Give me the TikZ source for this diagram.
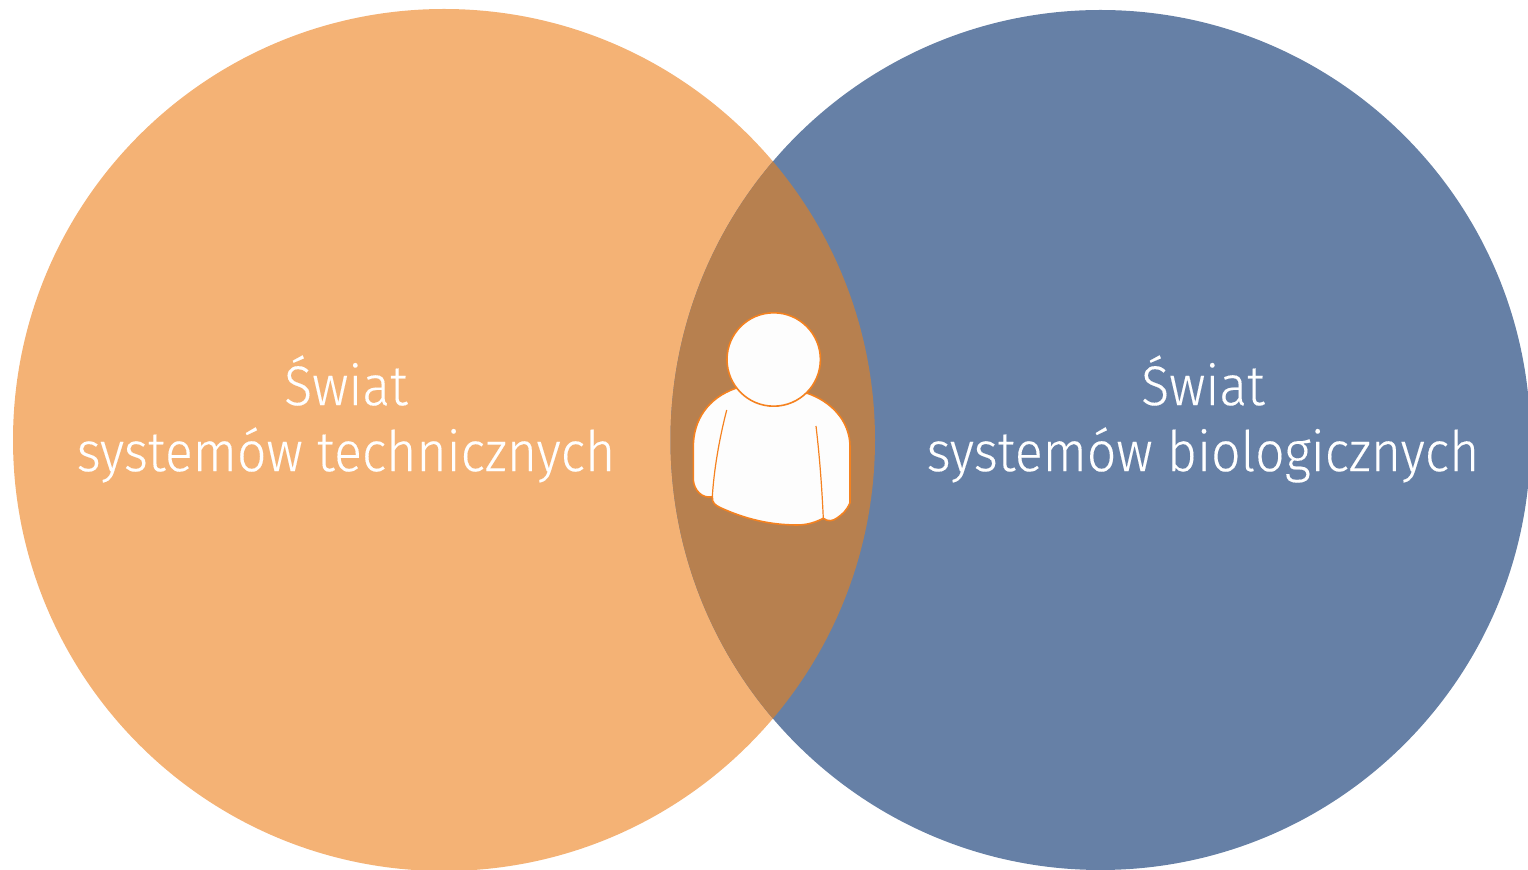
\documentclass[tikz,border=0pt]{standalone}
\usepackage{fontspec}
\setmainfont{Fira Sans}[UprightFont=* Light, FakeStretch=0.925, FakeBold=0.2]
\definecolor{orangeworld}{HTML}{F4B275}
\definecolor{blueworld}{HTML}{6680A6}
\definecolor{overlapworld}{HTML}{B7804F}
\definecolor{personline}{HTML}{F58220}
\definecolor{personfill}{HTML}{FDFDFD}
\tikzset{
  worldlabel/.style={text=white, align=center, font=\fontsize{28}{33}\selectfont},
  personpart/.style={draw=personline, fill=personfill, line width=0.8pt},
}
\begin{document}
\begin{tikzpicture}[x=0.5pt, y=-0.5pt]
\useasboundingbox (0, 0) rectangle (1528, 870);

\fill[orangeworld] (444, 440) circle[radius=431];
\fill[blueworld] (1100.5, 440) circle[radius=430];
\begin{scope}
\clip (444, 440) circle[radius=431];
\fill[overlapworld] (1100.5, 440) circle[radius=430];
\end{scope}

\node[worldlabel] (technical) at (346, 419) {Świat\\systemów technicznych};
\node[worldlabel] (biological) at (1203, 419) {Świat\\systemów biologicznych};

% body
\draw[personpart] (735.7, 388.3) .. controls (708, 398) and (693.3, 420) .. (693.3, 446.7)
  -- (693.3, 480) .. controls (694, 490) and (702, 499) .. (712.3, 496.7)
  .. controls (712, 503) and (715, 505) .. (720, 507.5)
  .. controls (745, 519) and (770, 525) .. (797, 525)
  .. controls (808, 525) and (816, 522) .. (823.3, 518.3)
  .. controls (828, 522) and (833, 521) .. (837, 518)
  .. controls (843, 514) and (847, 510) .. (850, 502.7)
  -- (850, 446.7) .. controls (850, 420) and (830, 401) .. (807.3, 393.3) -- cycle;
\draw[personline, line width=0.6pt] (726.7, 410) .. controls (719, 440) and (714, 470) .. (712.3, 496.7);
\draw[personline, line width=0.6pt] (816, 426) .. controls (820, 460) and (822, 490) .. (823.3, 518.3);
% head
\draw[personpart] (773.7, 359.5) circle[radius=46.7];

\end{tikzpicture}
\end{document}
